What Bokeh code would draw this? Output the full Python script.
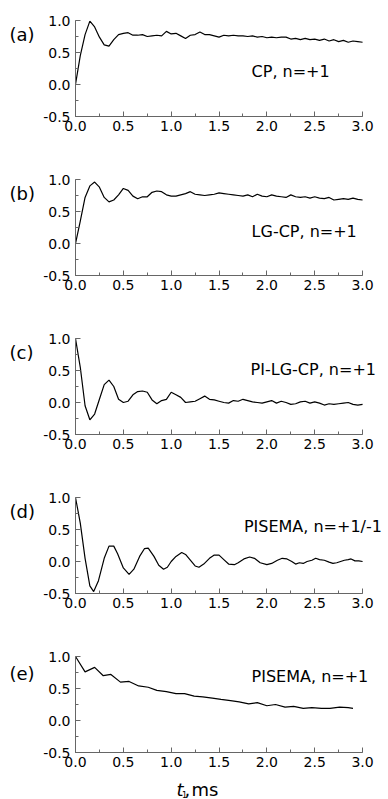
from bokeh.plotting import figure
from bokeh.layouts import column, row
from bokeh.models import Label, SingleIntervalTicker, PrintfTickFormatter, Range1d
from bokeh.embed import file_html
from bokeh.resources import INLINE

# ---- data ----
t_ab = [0.00, 0.05, 0.10, 0.15, 0.20, 0.25, 0.30, 0.35, 0.40, 0.45, 0.50, 0.55, 0.60, 0.65, 0.70,
        0.75, 0.80, 0.85, 0.90, 0.95, 1.00, 1.05, 1.10, 1.15, 1.20, 1.25, 1.30, 1.35, 1.40, 1.45,
        1.50, 1.55, 1.60, 1.65, 1.70, 1.75, 1.80, 1.85, 1.90, 1.95, 2.00, 2.05, 2.10, 2.15, 2.20,
        2.25, 2.30, 2.35, 2.40, 2.45, 2.50, 2.55, 2.60, 2.65, 2.70, 2.75, 2.80, 2.85, 2.90, 2.95, 3.00]

cp = [0.00, 0.45, 0.78, 0.99, 0.90, 0.74, 0.62, 0.60, 0.70, 0.78, 0.80, 0.81, 0.77, 0.77, 0.78,
      0.75, 0.76, 0.77, 0.76, 0.83, 0.79, 0.80, 0.76, 0.72, 0.77, 0.78, 0.82, 0.78, 0.78, 0.76,
      0.74, 0.77, 0.76, 0.77, 0.76, 0.76, 0.75, 0.76, 0.74, 0.75, 0.73, 0.74, 0.73, 0.74, 0.74,
      0.71, 0.72, 0.70, 0.72, 0.70, 0.71, 0.69, 0.71, 0.68, 0.70, 0.67, 0.69, 0.66, 0.68, 0.67, 0.66]

lgcp = [0.00, 0.35, 0.72, 0.90, 0.96, 0.88, 0.72, 0.65, 0.68, 0.76, 0.86, 0.83, 0.74, 0.70, 0.73,
        0.73, 0.80, 0.82, 0.81, 0.76, 0.74, 0.74, 0.76, 0.78, 0.81, 0.77, 0.76, 0.75, 0.76, 0.77,
        0.79, 0.78, 0.77, 0.76, 0.75, 0.74, 0.76, 0.73, 0.77, 0.74, 0.73, 0.76, 0.74, 0.73, 0.72,
        0.76, 0.73, 0.72, 0.73, 0.71, 0.73, 0.71, 0.70, 0.72, 0.68, 0.69, 0.70, 0.69, 0.71, 0.69, 0.68]

pilgcp = [1.00, 0.55, -0.05, -0.27, -0.18, 0.05, 0.28, 0.35, 0.25, 0.05, 0.00, 0.02, 0.12, 0.17, 0.18,
          0.16, 0.04, -0.02, 0.03, 0.05, 0.16, 0.12, 0.08, 0.00, 0.01, 0.02, 0.06, 0.10, 0.05, 0.04,
          0.02, 0.00, -0.01, 0.03, 0.02, 0.05, 0.03, 0.01, 0.00, -0.01, 0.01, 0.03, -0.01, 0.02, 0.00,
          -0.03, -0.02, 0.01, 0.02, -0.01, 0.01, -0.01, -0.04, -0.02, -0.03, -0.02, -0.01, 0.00, -0.03, -0.04, -0.03]

t_d = [0.00, 0.05, 0.10, 0.15, 0.19, 0.24, 0.30, 0.35, 0.40, 0.44, 0.50, 0.56, 0.61, 0.67, 0.72,
       0.76, 0.82, 0.87, 0.92, 0.96, 1.00, 1.05, 1.11, 1.15, 1.20, 1.25, 1.29, 1.34, 1.40, 1.45,
       1.50, 1.55, 1.60, 1.66, 1.70, 1.76, 1.82, 1.87, 1.93, 2.00, 2.05, 2.11, 2.16, 2.21, 2.26,
       2.30, 2.34, 2.38, 2.42, 2.47, 2.51, 2.55, 2.60, 2.65, 2.69, 2.73, 2.77, 2.81, 2.85, 2.88,
       2.92, 2.96, 3.00]
pisema_pm = [1.00, 0.60, 0.05, -0.38, -0.47, -0.30, 0.05, 0.24, 0.24, 0.12, -0.10, -0.20, -0.12, 0.08, 0.20,
             0.21, 0.08, -0.06, -0.12, -0.09, 0.00, 0.08, 0.14, 0.11, 0.02, -0.07, -0.09, -0.04, 0.05, 0.10,
             0.10, 0.03, -0.04, -0.05, -0.02, 0.04, 0.07, 0.05, -0.02, -0.05, -0.03, 0.02, 0.05, 0.04, 0.00,
             -0.04, -0.02, -0.03, 0.00, 0.02, 0.05, 0.03, 0.02, -0.01, -0.03, -0.02, 0.00, 0.02, 0.03, 0.04,
             0.01, 0.01, 0.00]

t_e = [0.00, 0.10, 0.20, 0.29, 0.37, 0.47, 0.56, 0.66, 0.76, 0.85, 0.95, 1.05, 1.14, 1.24, 1.33,
       1.43, 1.52, 1.62, 1.71, 1.81, 1.90, 2.00, 2.09, 2.19, 2.28, 2.38, 2.47, 2.57, 2.66, 2.76,
       2.85, 2.90]
pisema_p = [1.00, 0.76, 0.83, 0.70, 0.72, 0.60, 0.61, 0.54, 0.52, 0.47, 0.45, 0.42, 0.42, 0.38, 0.37,
            0.35, 0.33, 0.31, 0.29, 0.26, 0.28, 0.23, 0.25, 0.21, 0.22, 0.19, 0.20, 0.19, 0.19, 0.21,
            0.20, 0.19]

panel_tags = ["(a)", "(b)", "(c)", "(d)", "(e)"]
panel_names = ["CP, n=+1", "LG-CP, n=+1", "PI-LG-CP, n=+1", "PISEMA, n=+1/-1", "PISEMA, n=+1"]
name_pos = [(1.84, 0.21), (1.84, 0.19), (1.83, 0.52), (1.76, 0.55), (1.84, 0.69)]
series = [(t_ab, cp), (t_ab, lgcp), (t_ab, pilgcp), (t_d, pisema_pm), (t_e, pisema_p)]
x_ticks_end = 3.0
y_lo, y_hi = -0.5, 1.0

FONT = "DejaVu Sans"
AXIS_COL = "#666666"
TAG_W = 40
MAIN_W = 348
FRAME_W = 314
PLOT_W = 288          # pixels covering 0..3 ms


def blank(width, height):
    f = figure(width=width, height=height, output_backend="svg", toolbar_location=None,
               x_range=Range1d(0, width), y_range=Range1d(height, 0),
               x_axis_location=None, y_axis_location=None,
               min_border=0)
    f.outline_line_color = None
    f.xgrid.visible = False
    f.ygrid.visible = False
    return f


rows = []
for i, ((tx, vy), tag, name, pos) in enumerate(zip(series, panel_tags, panel_names, name_pos)):
    last = i == 4
    h = 134 if last else 159
    p = figure(width=MAIN_W, height=h, output_backend="svg", toolbar_location=None,
               x_range=Range1d(0, x_ticks_end * FRAME_W / PLOT_W), y_range=Range1d(y_lo, y_hi),
               min_border_left=MAIN_W - FRAME_W, min_border_right=0, min_border_top=20,
               min_border_bottom=(h - 20 - 96))
    p.outline_line_color = None
    p.xgrid.visible = False
    p.ygrid.visible = False
    for ax in (p.xaxis[0], p.yaxis[0]):
        ax.ticker = SingleIntervalTicker(interval=0.5, num_minor_ticks=2)
        ax.formatter = PrintfTickFormatter(format="%.1f")
        ax.axis_line_color = AXIS_COL
        ax.major_tick_line_color = AXIS_COL
        ax.minor_tick_line_color = AXIS_COL
        ax.major_tick_in = 5
        ax.major_tick_out = 0
        ax.minor_tick_in = 3
        ax.minor_tick_out = 0
        ax.major_label_text_font = FONT
        ax.major_label_text_font_size = "14px"
        ax.major_label_text_color = "black"
    p.xaxis[0].bounds = (0, x_ticks_end)
    p.xaxis[0].major_label_standoff = 4
    p.yaxis[0].major_label_standoff = 5
    p.line(tx, vy, line_color="black", line_width=1.2)
    p.add_layout(Label(x=pos[0], y=pos[1], text=name, text_font=FONT, text_font_size="16px",
                       text_align="left", text_baseline="middle", text_color="black"))

    t = blank(TAG_W, h)
    t.add_layout(Label(x=9, y=24, text=tag, text_font=FONT, text_font_size="18px",
                       text_align="left", text_baseline="middle", text_color="black"))
    rows.append(row(t, p, spacing=0))

# x-axis title strip: "t₁, ms"
XT_H = 29
xt = blank(TAG_W + MAIN_W, XT_H)
xt.add_layout(Label(x=176, y=19, text="t", text_font=FONT, text_font_size="18px",
                    text_font_style="italic", text_align="left", text_baseline="middle",
                    text_color="black"))
xt.add_layout(Label(x=181.5, y=23.5, text="1", text_font=FONT, text_font_size="8px",
                    text_align="left", text_baseline="middle", text_color="black"))
xt.add_layout(Label(x=184, y=19, text=",", text_font=FONT, text_font_size="18px",
                    text_align="left", text_baseline="middle", text_color="black"))
xt.add_layout(Label(x=191, y=19, text="ms", text_font=FONT, text_font_size="18px",
                    text_align="left", text_baseline="middle", text_color="black"))
rows.append(xt)

layout = column(*rows, spacing=0)
open("out.html", "w").write(file_html(layout, INLINE))
